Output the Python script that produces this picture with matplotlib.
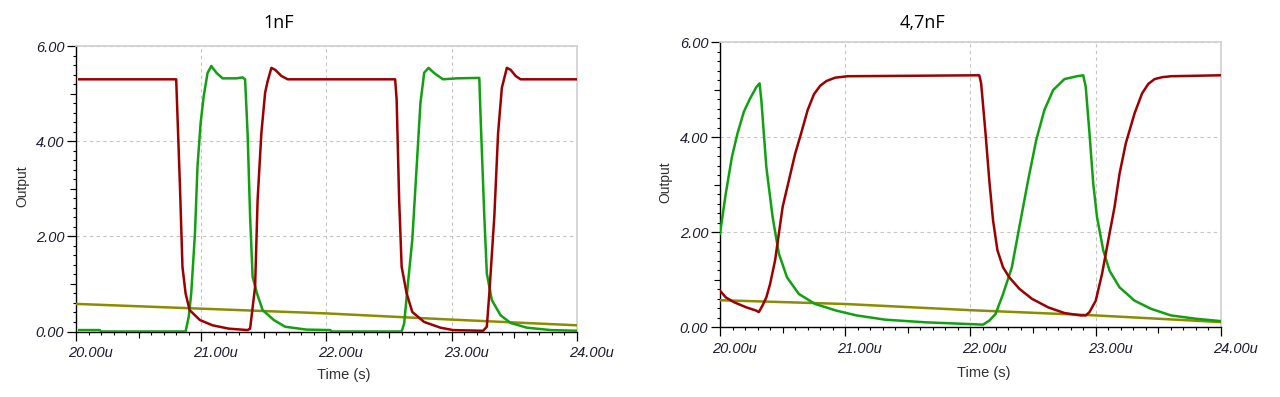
import matplotlib
matplotlib.use('Agg')
import matplotlib.pyplot as plt
import matplotlib.transforms as mtrans
import numpy as np

# time in microseconds, outputs in volts
# ---- 1nF ----
t_red_1 = [20.026, 20.80, 20.83, 20.85, 20.875, 20.907, 20.99, 21.09, 21.22, 21.37,
           21.39, 21.43, 21.45, 21.48, 21.51, 21.53, 21.56, 21.59, 21.64, 21.69,
           22.548, 22.56, 22.58, 22.60, 22.64, 22.685, 22.78, 22.91, 23.01, 23.25,
           23.28, 23.30, 23.34, 23.37, 23.40, 23.44, 23.47, 23.51, 23.55, 24.0]
v_red_1 = [5.3, 5.3, 3.05, 1.36, 0.8, 0.45, 0.24, 0.13, 0.06, 0.03,
           0.06, 0.94, 2.77, 4.17, 5.02, 5.26, 5.54, 5.5, 5.37, 5.3,
           5.3, 4.88, 2.77, 1.36, 0.8, 0.41, 0.2, 0.08, 0.03, 0.015,
           0.1, 0.8, 2.42, 4.17, 5.12, 5.54, 5.5, 5.37, 5.3, 5.3]

t_grn_1 = [20.026, 20.19, 20.20, 20.875, 20.90, 20.92, 20.95, 20.97, 20.995, 21.02,
           21.05, 21.08, 21.12, 21.17, 21.28, 21.33, 21.35, 21.37, 21.39, 21.41,
           21.445, 21.49, 21.58, 21.67, 21.84, 22.03, 22.04, 22.60, 22.62, 22.65,
           22.685, 22.72, 22.75, 22.78, 22.815, 22.86, 22.93, 23.04, 23.22, 23.23,
           23.26, 23.28, 23.32, 23.39, 23.47, 23.6, 23.79, 24.0]
v_grn_1 = [0.03, 0.03, 0.0, 0.0, 0.31, 0.8, 2.07, 3.47, 4.38, 4.95,
           5.43, 5.58, 5.44, 5.32, 5.32, 5.34, 5.3, 4.17, 2.42, 1.15,
           0.8, 0.45, 0.24, 0.1, 0.04, 0.03, 0.0, 0.0, 0.17, 1.0,
           1.93, 3.47, 4.8, 5.44, 5.54, 5.43, 5.3, 5.32, 5.33, 4.53,
           2.42, 1.22, 0.66, 0.34, 0.18, 0.08, 0.03, 0.015]

t_olv_1 = [20.0, 21.0, 22.0, 23.0, 24.0]
v_olv_1 = [0.58, 0.48, 0.38, 0.25, 0.13]

# ---- 4,7nF ----
t_red_2 = [20.0, 20.046, 20.11, 20.21, 20.29, 20.31, 20.34, 20.37, 20.40, 20.44,
           20.47, 20.50, 20.55, 20.60, 20.65, 20.70, 20.75, 20.80, 20.85, 20.92,
           21.02, 22.07, 22.085, 22.12, 22.15, 22.18, 22.215, 22.26, 22.31, 22.39,
           22.49, 22.62, 22.75, 22.88, 22.92, 22.95, 23.0, 23.05, 23.10, 23.15,
           23.19, 23.24, 23.31, 23.37, 23.42, 23.47, 23.53, 23.60, 24.0]
v_red_2 = [0.77, 0.63, 0.53, 0.42, 0.35, 0.32, 0.46, 0.63, 0.91, 1.41,
           1.97, 2.53, 3.09, 3.65, 4.1, 4.57, 4.9, 5.08, 5.18, 5.25,
           5.28, 5.3, 5.13, 4.08, 3.09, 2.25, 1.62, 1.26, 1.05, 0.81,
           0.6, 0.42, 0.3, 0.25, 0.25, 0.32, 0.56, 1.12, 1.83, 2.53,
           3.23, 3.87, 4.5, 4.92, 5.12, 5.22, 5.26, 5.28, 5.3]

t_grn_2 = [20.0, 20.046, 20.095, 20.14, 20.19, 20.24, 20.29, 20.316, 20.33, 20.37,
           20.42, 20.47, 20.535, 20.63, 20.76, 20.93, 21.09, 21.32, 21.64, 21.97,
           22.10, 22.15, 22.2, 22.26, 22.33, 22.39, 22.46, 22.525, 22.59, 22.66,
           22.75, 22.85, 22.90, 22.92, 22.95, 22.98, 23.01, 23.06, 23.11, 23.19,
           23.31, 23.44, 23.60, 23.80, 24.0]
v_grn_2 = [1.97, 2.81, 3.58, 4.08, 4.53, 4.81, 5.05, 5.13, 4.78, 3.37,
           2.32, 1.55, 1.05, 0.7, 0.49, 0.35, 0.25, 0.16, 0.105, 0.07,
           0.056, 0.14, 0.28, 0.7, 1.26, 2.11, 3.09, 3.94, 4.57, 4.99,
           5.22, 5.28, 5.3, 5.06, 4.08, 3.02, 2.32, 1.62, 1.19, 0.84,
           0.56, 0.39, 0.25, 0.18, 0.13]

t_olv_2 = [20.0, 21.0, 22.0, 23.0, 24.0]
v_olv_2 = [0.57, 0.49, 0.36, 0.25, 0.11]

x_ticks = [20.0, 21.0, 22.0, 23.0, 24.0]
x_labels = ['20.00u', '21.00u', '22.00u', '23.00u', '24.00u']
y_ticks = [0.0, 2.0, 4.0, 6.0]
y_labels = ['0.00', '2.00', '4.00', '6.00']
titles = ['1nF', '4,7nF']

RED = '#9c0000'
GREEN = '#10a010'
OLIVE = '#8c8c00'
LABEL_C = '#1c1c30'

W, H = 1280, 397
fig = plt.figure(figsize=(W / 100, H / 100), dpi=100)


def px_axes(x0, y0, x1, y1):
    return fig.add_axes([x0 / W, 1 - y1 / H, (x1 - x0) / W, (y1 - y0) / H])


def style(ax):
    ax.set_xlim(20, 24)
    ax.set_ylim(0, 6)
    ax.set_xticks(x_ticks)
    ax.set_xticklabels(x_labels)
    ax.set_yticks(y_ticks)
    ax.set_yticklabels(y_labels)
    ax.set_xticks(np.arange(20, 24.001, 0.1), minor=True)
    ax.set_yticks(np.arange(0, 6.001, 0.2), minor=True)
    for s in ['top', 'right']:
        ax.spines[s].set_color('#d0d0d0')
        ax.spines[s].set_linewidth(1.2)
    for s in ['left', 'bottom']:
        ax.spines[s].set_color('black')
        ax.spines[s].set_linewidth(1.0)
    ax.tick_params(which='major', direction='out', length=6.5, width=0.9,
                   color='black', labelsize=10.5, labelcolor=LABEL_C)
    ax.tick_params(which='minor', direction='out', length=2.2, width=0.8, color='black')
    ax.tick_params(axis='x', which='major', pad=4)
    ax.tick_params(axis='y', which='major', pad=2)
    for lab in ax.get_xticklabels() + ax.get_yticklabels():
        lab.set_fontstyle('italic')
        lab.set_fontfamily('Liberation Sans')
    off = mtrans.ScaledTranslation(-8 / 100, 0, fig.dpi_scale_trans)
    for lab in ax.get_xticklabels():
        lab.set_horizontalalignment('left')
        lab.set_transform(lab.get_transform() + off)
    ax.grid(True, which='major', color='#c4c4c4', linestyle=(0, (3, 3)), linewidth=0.8)
    # medium ticks at the half steps
    sx = ax.secondary_xaxis('bottom')
    sx.set_xticks(np.arange(20.5, 24, 1.0))
    sx.tick_params(length=4, width=0.8, color='black', labelbottom=False)
    sx.spines['bottom'].set_visible(False)
    sy = ax.secondary_yaxis('left')
    sy.set_yticks([1.0, 3.0, 5.0])
    sy.tick_params(length=4, width=0.8, color='black', labelleft=False)
    sy.spines['left'].set_visible(False)


ax1 = px_axes(76, 46, 577, 331.5)
ax2 = px_axes(720, 42, 1221, 327.3)

panels = [
    (ax1, t_red_1, v_red_1, t_grn_1, v_grn_1, t_olv_1, v_olv_1),
    (ax2, t_red_2, v_red_2, t_grn_2, v_grn_2, t_olv_2, v_olv_2),
]
for ax, tr, vr, tg, vg, to, vo in panels:
    style(ax)
    ax.plot(to, vo, color=OLIVE, lw=1.8, zorder=3)
    ax.plot(tg, vg, color=GREEN, lw=1.8, zorder=4)
    ax.plot(tr, vr, color=RED, lw=1.8, zorder=5)

# titles and axis labels
fig.text(279 / W, 1 - 23 / H, titles[0], ha='center', va='center',
         fontsize=13, family='Open Sans')
fig.text(922 / W, 1 - 23 / H, titles[1], ha='center', va='center',
         fontsize=13, family='Open Sans')
fig.text(22 / W, 1 - 186 / H, 'Output', rotation=90, ha='center', va='center',
         fontsize=10, family='Liberation Sans', color='#303030')
fig.text(665 / W, 1 - 182 / H, 'Output', rotation=90, ha='center', va='center',
         fontsize=10, family='Liberation Sans', color='#303030')
fig.text(344 / W, 1 - 375 / H, 'Time (s)', ha='center', va='center',
         fontsize=10.5, family='Liberation Sans', color='#303030')
fig.text(984 / W, 1 - 373 / H, 'Time (s)', ha='center', va='center',
         fontsize=10.5, family='Liberation Sans', color='#303030')

fig.savefig('out.png', dpi=100)
